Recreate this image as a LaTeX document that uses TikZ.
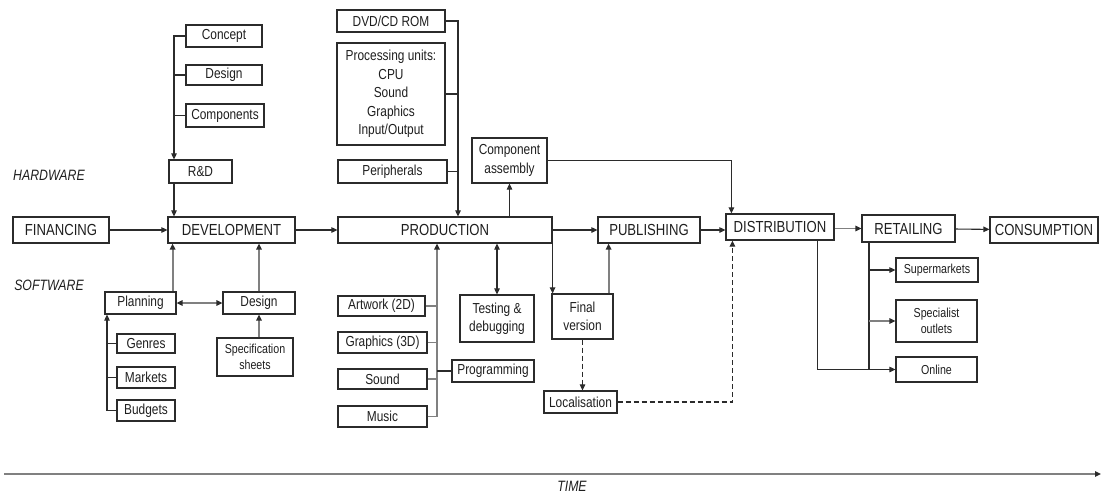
\documentclass[tikz,border=0pt]{standalone}
\usepackage{fontspec}
\setmainfont{Liberation Sans}[FakeStretch=0.82]
\usetikzlibrary{arrows.meta}
\definecolor{ln}{HTML}{2B2B2B}
\definecolor{gl}{HTML}{808080}
\definecolor{tx}{HTML}{1E1E1E}
\begin{document}
\begin{tikzpicture}[x=1pt,y=-1pt,
 box/.style={draw=ln,line width=1.2pt,inner sep=0pt,text=tx,align=center},
 big/.style={font=\fontsize{16}{19}\selectfont},
 med/.style={font=\fontsize{14.5}{18.5}\selectfont},
 sml/.style={font=\fontsize{13}{16.5}\selectfont},
 lab/.style={text=tx,font=\fontsize{15}{18}\selectfont\itshape,inner sep=0pt},
 con/.style={draw=ln,line width=1.1pt},
 gcon/.style={draw=gl,line width=1.9pt},
 arr/.style={con,-{Triangle[length=6pt,width=5.5pt,color=ln]}},
 garr/.style={gcon,-{Triangle[length=6pt,width=5.5pt,color=ln]}},
 dbl/.style={con,{Triangle[length=6pt,width=5.5pt,color=ln]}-{Triangle[length=6pt,width=5.5pt,color=ln]}},
 gdbl/.style={gcon,{Triangle[length=6pt,width=5.5pt,color=ln]}-{Triangle[length=6pt,width=5.5pt,color=ln]}},
 darr/.style={draw=ln,line width=1.1pt,dash pattern=on 5pt off 3pt,-{Triangle[length=6pt,width=5.5pt,color=ln]}},
]
\useasboundingbox (0,0) rectangle (1101,493);

% hardware
\node[box,med,minimum width=76pt,minimum height=22pt] (concept) at (224,36) {Concept};
\node[box,med,minimum width=76pt,minimum height=20pt] (hwdesign) at (224,75) {Design};
\node[box,med,minimum width=78pt,minimum height=23pt] (components) at (225,115.5) {Components};
\node[box,med,minimum width=63pt,minimum height=23pt] (rd) at (200.5,171.5) {R\&D};
\node[box,big,minimum width=96pt,minimum height=26pt] (financing) at (61,230) {FINANCING};
\node[box,big,minimum width=127pt,minimum height=26pt] (development) at (231.5,230) {DEVELOPMENT};

% software
\node[box,med,minimum width=71pt,minimum height=22pt] (planning) at (140.5,303) {Planning};
\node[box,med,minimum width=72pt,minimum height=22pt] (swdesign) at (259,303) {Design};
\node[box,med,minimum width=58pt,minimum height=19pt] (genres) at (146,343.5) {Genres};
\node[box,med,minimum width=58pt,minimum height=21pt] (markets) at (146,377.5) {Markets};
\node[box,med,minimum width=58pt,minimum height=21pt] (budgets) at (146,410.5) {Budgets};
\node[box,sml,minimum width=76pt,minimum height=38pt] (spec) at (255,357) {Specification\\sheets};

% production
\node[box,med,minimum width=108pt,minimum height=22pt] (dvd) at (391,21) {DVD/CD ROM};
\node[box,med,minimum width=108pt,minimum height=102pt] (proc) at (391,94) {Processing units:\\CPU\\Sound\\Graphics\\Input/Output};
\node[box,med,minimum width=109pt,minimum height=23pt] (periph) at (392.5,171.5) {Peripherals};
\node[box,med,minimum width=75pt,minimum height=45pt] (compasm) at (509.5,160.5) {Component\\assembly};
\node[box,big,minimum width=214pt,minimum height=26pt] (production) at (445,230) {PRODUCTION};
\node[box,med,minimum width=87pt,minimum height=20pt] (artwork) at (381.5,306) {Artwork (2D)};
\node[box,med,minimum width=89pt,minimum height=21pt] (graphics) at (382.5,342.5) {Graphics (3D)};
\node[box,med,minimum width=89pt,minimum height=20pt] (sound) at (382.5,379) {Sound};
\node[box,med,minimum width=89pt,minimum height=21pt] (music) at (382.5,416.5) {Music};
\node[box,med,minimum width=82pt,minimum height=22pt] (programming) at (493,371) {Programming};
\node[box,med,minimum width=74pt,minimum height=47pt] (testing) at (497,318.5) {Testing \&\\debugging};

% publishing / distribution
\node[box,big,minimum width=102pt,minimum height=26pt] (publishing) at (649,230) {PUBLISHING};
\node[box,big,minimum width=108pt,minimum height=26pt] (distribution) at (780,227) {DISTRIBUTION};
\node[box,med,minimum width=61pt,minimum height=45pt] (finalver) at (582.5,316.5) {Final\\version};
\node[box,med,minimum width=73pt,minimum height=22pt] (localisation) at (580.5,402) {Localisation};

% retailing
\node[box,big,minimum width=93pt,minimum height=27pt] (retailing) at (908.5,228.5) {RETAILING};
\node[box,big,minimum width=108pt,minimum height=26pt] (consumption) at (1044,230) {CONSUMPTION};
\node[box,sml,minimum width=82pt,minimum height=24pt] (supermarkets) at (937,270) {Supermarkets};
\node[box,sml,minimum width=81pt,minimum height=42pt] (specialist) at (936.5,321) {Specialist\\outlets};
\node[box,sml,minimum width=81pt,minimum height=25pt] (online) at (936.5,369.5) {Online};

% labels
\node[lab] (hwlab) at (49,175) {HARDWARE};
\node[lab] (swlab) at (49,285) {SOFTWARE};
\node[lab] (timelab) at (572,486) {TIME};

% hardware connectors
\coordinate (hwb) at (174,0);
\draw[arr] (concept.west) -| (rd.north -| hwb);
\draw[con] (hwdesign.west) -- (hwdesign.west -| hwb);
\draw[con] (components.west) -- (components.west -| hwb);
\draw[arr] (rd.south -| hwb) -- (development.north -| hwb);
\draw[arr] (financing) -- (development);
\draw[arr] (development) -- (production);

% software connectors
\draw[garr] ([xshift=-4pt]planning.north east) -- ([xshift=-4pt]planning.north east |- development.south);
\draw[garr] (swdesign.north) -- (swdesign.north |- development.south);
\draw[gdbl] (planning) -- (swdesign);
\coordinate (swb) at (107,0);
\draw[arr] (budgets.west) -| (planning.south -| swb);
\draw[con] (genres.west) -- (genres.west -| swb);
\draw[con] (markets.west) -- (markets.west -| swb);
\draw[garr] (spec.north -| swdesign.south) -- (swdesign.south);

% production connectors
\coordinate (pb) at (458,0);
\draw[arr] (dvd.east) -| (production.north -| pb);
\draw[con] (proc.east) -- (proc.east -| pb);
\draw[con] (periph.east) -- (periph.east -| pb);
\draw[arr] (production.north -| compasm.south) -- (compasm.south);
\draw[arr] (compasm.east) -| ([xshift=6pt]distribution.north west);
\draw[arr] (production) -- (publishing);
\draw[arr] (publishing.east) -- (publishing.east -| distribution.west);
\draw[arr] (production.south east) -- (production.south east |- finalver.north);
\draw[garr] ([xshift=-5pt]finalver.north east) -- ([xshift=-5pt]finalver.north east |- publishing.south);
\draw[darr] (finalver.south) -- (finalver.south |- localisation.north);
\draw[darr] (localisation.east) -| ([xshift=7pt]distribution.south west);

\coordinate (bb) at (437,0);
\draw[garr] (music.east) -| (production.south -| bb);
\draw[gcon] (artwork.east) -- (artwork.east -| bb);
\draw[gcon] (graphics.east) -- (graphics.east -| bb);
\draw[gcon] (sound.east) -- (sound.east -| bb);
\draw[con] (programming.west) -- (programming.west -| bb);
\draw[dbl] (production.south -| testing.north) -- (testing.north);

% distribution / retailing connectors
\draw[garr] (distribution.east |- retailing.west) -- (retailing.west);
\draw[arr] (retailing) -- (consumption);
\coordinate (rb) at (869,0);
\draw[con] (retailing.south -| rb) -- (online.west -| rb);
\draw[arr] (supermarkets.west -| rb) -- (supermarkets.west);
\draw[garr] (specialist.west -| rb) -- (specialist.west);
\draw[arr] ([xshift=-17pt]distribution.south east) |- (online.west);

% time axis
\coordinate (t0) at (4,474);
\coordinate (t1) at (1101,474);
\draw[garr,line width=2.2pt] (t0) -- (t1);
\end{tikzpicture}
\end{document}
